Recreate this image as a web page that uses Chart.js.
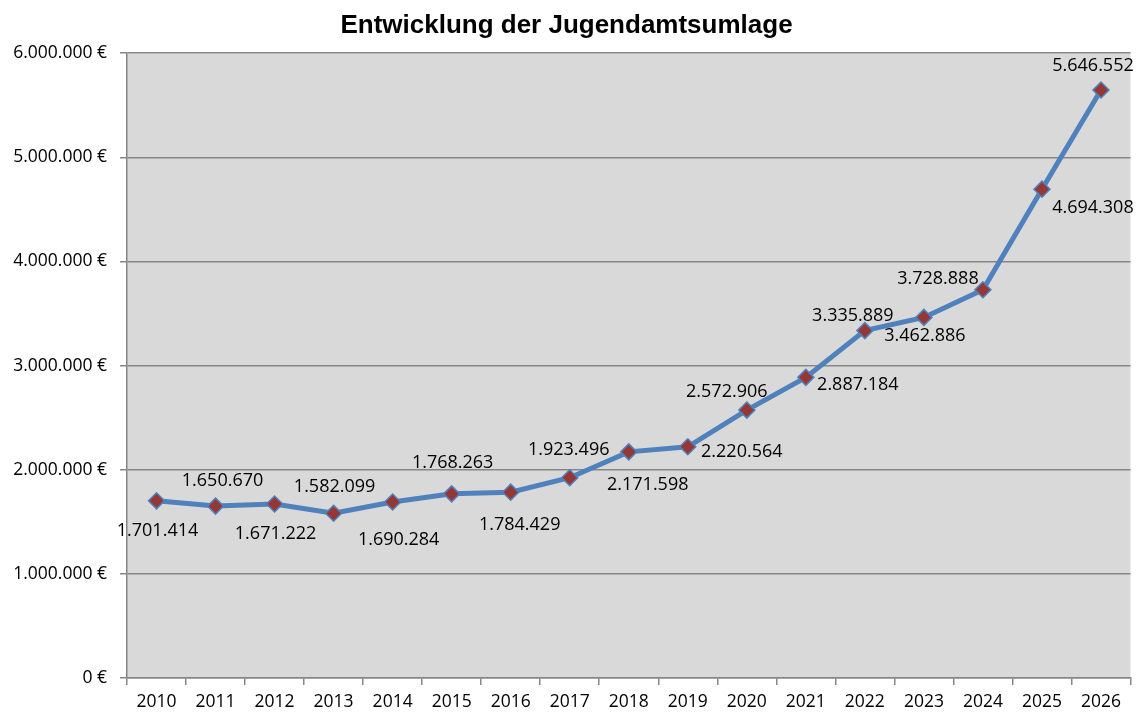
<!DOCTYPE html>
<html lang="de">
<head>
<meta charset="utf-8">
<title>Entwicklung der Jugendamtsumlage</title>
<script src="https://cdn.jsdelivr.net/npm/chart.js@4"></script>
<style>
  html, body { margin: 0; padding: 0; background: #fff; }
  #wrap { width: 1140px; height: 715px; }
</style>
</head>
<body>
<div id="wrap"><canvas id="umlageChart" width="1140" height="715"></canvas></div>
<script>
// Daten
const jahre = ['2010', '2011', '2012', '2013', '2014', '2015', '2016', '2017', '2018',
               '2019', '2020', '2021', '2022', '2023', '2024', '2025', '2026'];
const umlage = [1701414, 1650670, 1671222, 1582099, 1690284, 1768263, 1784429, 1923496, 2171598,
                2220564, 2572906, 2887184, 3335889, 3462886, 3728888, 4694308, 5646552];
const yTicks = [0, 1000000, 2000000, 3000000, 4000000, 5000000, 6000000];

// Versatz der Beschriftungen relativ zum Punkt (Pixel)
const labelOffsets = [
    [1, 30], [7, -25], [1, 30], [1, -26], [6, 38], [1, -31], [9, 33], [-1, -28], [19, 33],
    [54, 5], [-20, -18], [52, 8], [-12, -15], [1, 18], [-45, -11], [51, 19], [-8, -24]
];

const fmt = v => v.toLocaleString('de-DE');

// Grauer Hintergrund der Zeichenfläche
const plotBackground = {
    id: 'plotBackground',
    beforeDraw(chart) {
        const { ctx, chartArea: a } = chart;
        ctx.save();
        ctx.fillStyle = '#d9d9d9';
        ctx.fillRect(a.left, a.top, a.right - a.left, a.bottom - a.top);
        ctx.restore();
    }
};

// Werte an den Punkten
const valueLabels = {
    id: 'valueLabels',
    afterDatasetsDraw(chart) {
        const { ctx } = chart;
        const meta = chart.getDatasetMeta(0);
        ctx.save();
        ctx.font = '18px "Open Sans", sans-serif';
        ctx.fillStyle = '#000';
        ctx.textAlign = 'center';
        ctx.textBaseline = 'middle';
        meta.data.forEach((pt, i) => {
            const [dx, dy] = labelOffsets[i];
            ctx.fillText(fmt(umlage[i]), pt.x + dx, pt.y + dy);
        });
        ctx.restore();
    }
};

new Chart(document.getElementById('umlageChart'), {
    type: 'line',
    data: {
        labels: jahre,
        datasets: [{
            label: 'Jugendamtsumlage',
            data: umlage,
            borderColor: '#4f81bd',
            borderWidth: 5,
            tension: 0,
            pointStyle: 'rectRot',
            pointRadius: 8,
            pointBackgroundColor: '#953735',
            pointBorderColor: '#4f81bd',
            pointBorderWidth: 1.5
        }]
    },
    options: {
        responsive: false,
        animation: false,
        layout: { padding: { left: 0, right: 7, bottom: 0, top: 0 } },
        plugins: {
            legend: { display: false },
            tooltip: { enabled: false },
            title: {
                display: true,
                text: 'Entwicklung der Jugendamtsumlage',
                color: '#000',
                font: { family: '"Liberation Sans", Arial, sans-serif', size: 26, weight: 'bold' },
                padding: { top: 10, bottom: 12 }
            }
        },
        scales: {
            x: {
                offset: true,
                grid: {
                    offset: true,
                    drawOnChartArea: false,
                    drawTicks: true,
                    tickLength: 7,
                    color: '#868686',
                    lineWidth: 1.5
                },
                border: { display: true, color: '#868686', width: 1.5 },
                ticks: {
                    color: '#000',
                    padding: 7,
                    maxRotation: 0,
                    font: { family: '"Open Sans", sans-serif', size: 17.5 }
                },
                afterFit(scale) { scale.height = 37; }
            },
            y: {
                min: 0,
                max: 6000000,
                afterBuildTicks(scale) { scale.ticks = yTicks.map(v => ({ value: v })); },
                grid: {
                    color: '#868686',
                    lineWidth: 1.5,
                    drawTicks: true,
                    tickLength: 7
                },
                border: { display: true, color: '#868686', width: 1.5 },
                ticks: {
                    color: '#000',
                    padding: 13,
                    font: { family: '"Open Sans", sans-serif', size: 17.5 },
                    callback: v => fmt(v) + ' €'
                },
                afterFit(scale) { scale.width = 127; }
            }
        }
    },
    plugins: [plotBackground, valueLabels]
});
</script>
</body>
</html>
